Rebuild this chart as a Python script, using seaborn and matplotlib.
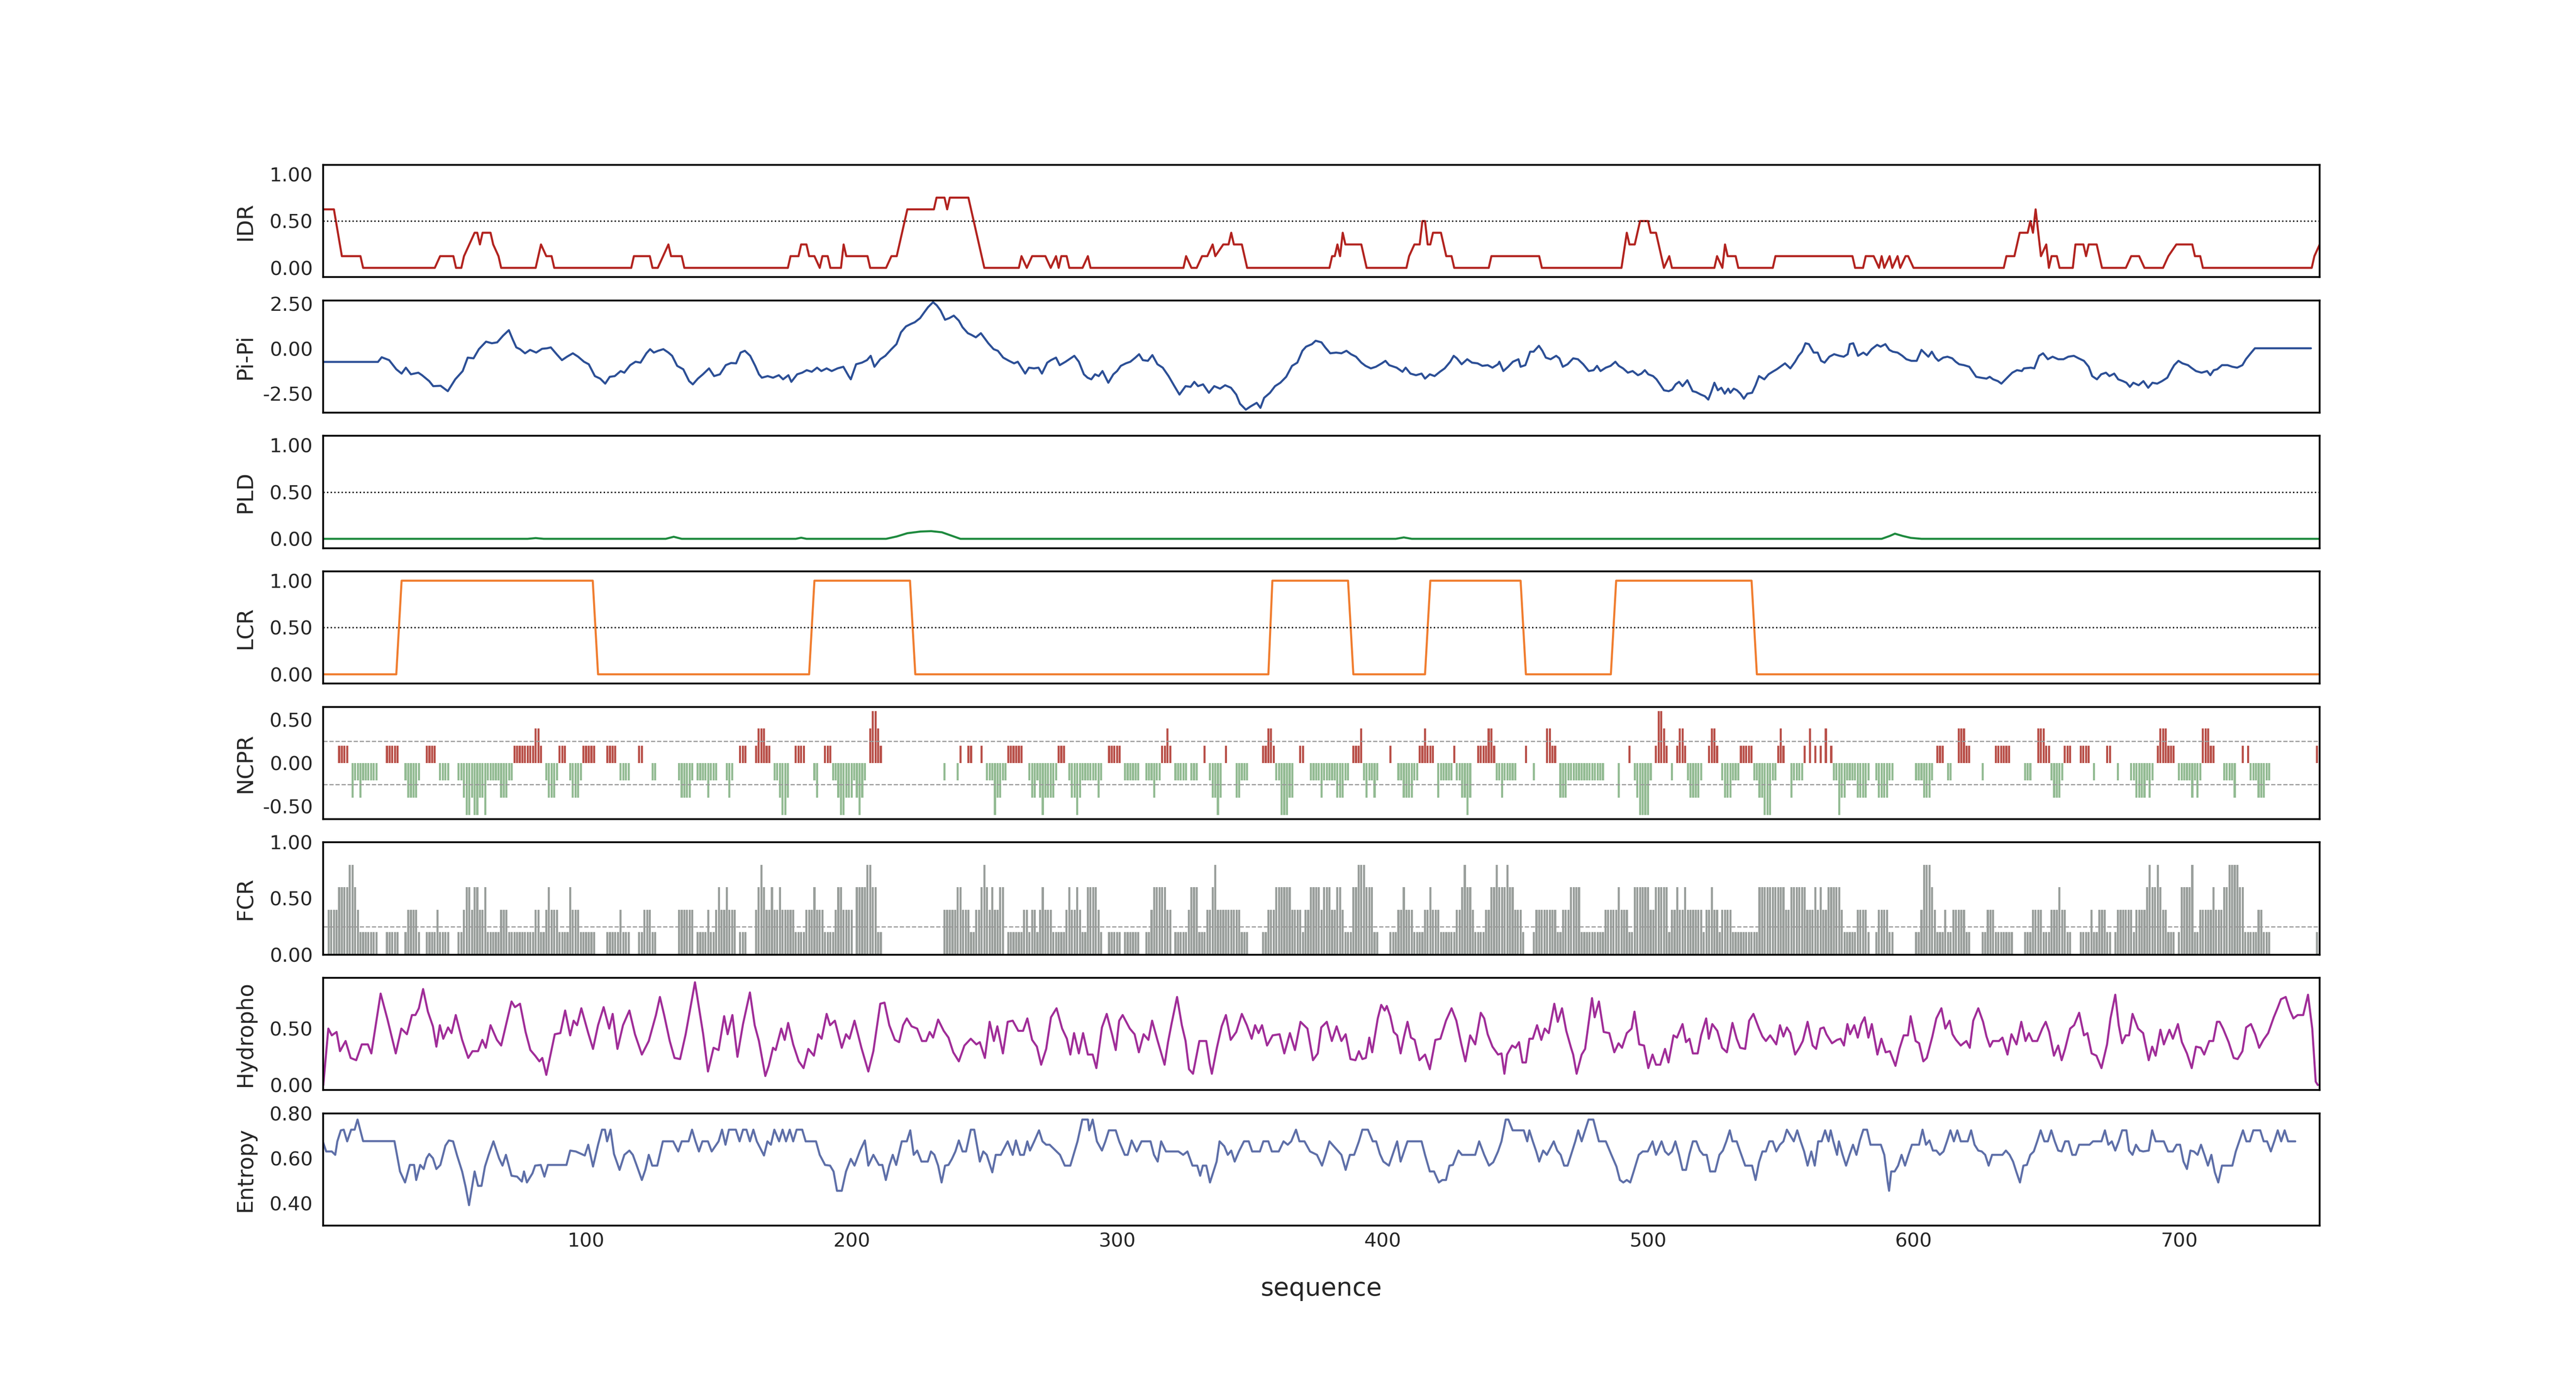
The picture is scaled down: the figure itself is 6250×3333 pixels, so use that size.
import numpy as np
import pandas as pd
import matplotlib
matplotlib.use("Agg")
import matplotlib.pyplot as plt
import seaborn as sns
from matplotlib.ticker import FormatStrFormatter

N_RES = 753

# ---------------- data ----------------
IDR_x = [1,5,8,15,16,43,45,50,51,53,54,56,58,59,60,61,64,65,67,68,81,83,85,87,88,117,118,124,125,127,129,131,132,136,137,
         176,177,180,181,183,184,186,188,189,191,192,196,197,198,206,207,213,215,217,219,221,231,232,235,236,237,244,245,247,250,
         263,264,266,268,273,275,277,278,279,281,282,287,289,290,325,326,328,330,332,334,336,337,340,342,343,344,347,349,
         380,381,382,383,384,385,386,392,394,409,410,412,414,415,416,417,418,419,422,424,426,427,440,441,459,460,
         490,492,493,495,496,497,500,501,503,506,508,509,525,526,528,529,530,533,534,547,548,577,578,581,582,585,587,588,589,591,592,594,595,597,598,600,
         634,635,638,640,643,644,645,646,648,650,651,652,654,655,660,661,664,665,666,669,671,680,682,685,687,694,696,699,705,706,708,709,750,751,753]
IDR_y = [0.625,0.625,0.125,0.125,0,0,0.125,0.125,0,0,0.125,0.25,0.375,0.375,0.25,0.375,0.375,0.25,0.125,0,0,0.25,0.125,0.125,0,0,0.125,0.125,0,0,0.125,0.25,0.125,0.125,0,
         0,0.125,0.125,0.25,0.25,0.125,0.125,0,0.125,0.125,0,0,0.25,0.125,0.125,0,0,0.125,0.125,0.375,0.625,0.625,0.75,0.75,0.625,0.75,0.75,0.625,0.375,0,
         0,0.125,0,0.125,0.125,0,0.125,0,0.125,0.125,0,0,0.125,0,0,0.125,0,0,0.125,0.125,0.25,0.125,0.25,0.25,0.375,0.25,0.25,0,
         0,0.125,0.125,0.25,0.125,0.375,0.25,0.25,0,0,0.125,0.25,0.25,0.5,0.5,0.25,0.25,0.375,0.375,0.125,0.125,0,0,0.125,0.125,0,
         0,0.375,0.25,0.25,0.375,0.5,0.5,0.375,0.375,0,0.125,0,0,0.125,0,0.25,0.125,0.125,0,0,0.125,0.125,0,0,0.125,0.125,0,0.125,0,0.125,0,0.125,0,0.125,0.125,0,
         0,0.125,0.125,0.375,0.375,0.5,0.375,0.625,0.125,0.25,0,0.125,0.125,0,0,0.25,0.25,0.125,0.25,0.25,0,0,0.125,0.125,0,0,0.125,0.25,0.25,0.125,0.125,0,0,0.125,0.25]

PIPI_x = [1,21.6,23,25.8,28.5,30.5,32.1,34,36.8,38.2,40.9,42.4,45.2,47.9,50.7,53.5,55.4,57.6,59.6,62.3,64.5,66.5,68.7,70.9,72.3,73.7,75.1,77,78.9,81.2,83.4,85.3,86.7,88.9,90.9,92.8,95,97,99.2,101,103.3,105.3,107.2,108.9,110.8,113,114.4,116.6,118.6,120.5,122.7,124.1,125.5,127.1,129.1,131,132.4,134.3,136.6,138.8,140.2,142.1,144,146.3,148.2,150.4,152.6,154.6,156.5,158.2,159.8,161.8,163.7,165.1,166.2,168.4,170.4,172.6,174.2,176.2,177.3,179.5,181.4,183.1,185,187,188.6,190.6,192.5,194.7,196.9,198.9,199.7,201.7,203.9,205.8,207.2,208.6,210.8,212.7,215,216.9,218.6,220.5,222.4,223.8,225.8,227.4,228.8,230.7,232.1,233.5,235.2,236.8,238.5,240.4,241.8,243.8,245.1,246.8,248.7,250.1,251.5,253.5,255.1,257.1,259.3,261.2,262.6,264,265.4,266.8,268.7,270.4,271.7,273.7,275.1,277,278.4,280.6,282,283.9,285.6,287.5,288.9,290.3,291.7,293.1,294.5,296.7,298.6,300,301.4,303.3,305,306.9,308.3,309.7,311.6,313.3,315.2,317.2,319.4,321.6,323.5,325.8,327.7,329.1,330.5,332.4,334.6,336.6,338.8,340.7,342.9,344.9,346.3,348.5,350.4,352.6,354,355.4,357.6,359.5,361.5,363.7,365.9,367.9,369.8,371.2,373.4,374.8,377,378.4,380.3,382.5,384.5,386.4,388.1,390,392,393.6,395.6,397.5,399.7,401.1,402.5,405.3,
          407.5,408.7,410.5,412.6,414.7,416,417.8,419.6,421.6,423.4,425.5,426.8,428,429.8,431.9,433.7,435.8,437.6,439.6,441.4,443.5,444,445.5,447.3,449.1,451.2,452,453.8,455.6,456.9,458.9,460.2,461.5,463.3,465.4,466.6,467.9,469.7,471.8,473.6,475.6,477.7,479.5,480.8,482.1,484.1,485.9,487.7,489,490.6,492.4,494.2,496.2,497.5,498.8,500.1,501.9,503.2,504.5,506,507.8,509.1,510.4,511.7,513,514.8,516.8,518.1,519.9,521.4,522.7,523.8,525,526.3,527.6,528.9,530.2,531,532.3,533.5,534.8,536.1,537.4,539.2,540.5,541.8,543.8,545.4,546.9,548.5,550.3,551.6,553.6,555.4,556.7,558,559.3,560.6,562.4,563.9,565.2,566.5,568.3,570.1,572.1,573.7,575.2,576,577.3,579.1,581.1,582.4,584.2,586.3,587.6,589.4,590.9,592.2,594,595.8,597.3,599.2,601.2,603,604.3,605.6,606.9,608.2,609.4,611.2,612.8,614.6,615.9,617.2,619,621,622.3,623.6,625.4,627.5,628.7,630,631.8,633.1,634.7,635.9,637.2,639,640.8,641.6,644.2,645.5,647.3,648.8,650.6,652.4,654.5,656.5,658.3,660.4,662.2,664.2,666,667.3,669.1,670.7,672.5,673.8,675.6,677.1,678.9,680.2,681.5,682.8,684.8,686.6,688.4,690,691.8,693.6,695.6,696.9,698.2,699.8,701.3,703.4,704.6,706.4,708.5,710.6,711.8,713.1,714.4,716.2,718.3,720.1,721.9,723.9,725.2,727,728.6,749.7]
PIPI_y = [-0.74,-0.74,-0.48,-0.64,-1.15,-1.39,-1.06,-1.43,-1.34,-1.48,-1.81,-2.09,-2.07,-2.37,-1.71,-1.25,-0.50,-0.54,-0.03,0.39,0.30,0.35,0.72,1.03,0.53,0.07,-0.03,-0.26,-0.07,-0.22,-0.01,0.02,0.07,-0.31,-0.64,-0.45,-0.26,-0.45,-0.73,-0.87,-1.53,-1.67,-1.95,-1.57,-1.53,-1.25,-1.34,-0.92,-0.73,-0.78,-0.26,-0.03,-0.22,-0.12,-0.03,-0.22,-0.40,-0.96,-1.15,-1.81,-1.99,-1.67,-1.43,-1.10,-1.53,-1.43,-0.92,-0.80,-0.82,-0.22,-0.12,-0.40,-0.96,-1.43,-1.62,-1.53,-1.62,-1.48,-1.71,-1.48,-1.85,-1.43,-1.34,-1.20,-1.29,-1.06,-1.25,-1.10,-1.25,-1.10,-1.01,-1.53,-1.71,-0.87,-0.78,-0.64,-0.40,-1.01,-0.59,-0.40,-0.03,0.25,0.91,1.24,1.38,1.47,1.70,2.03,2.31,2.59,2.41,2.13,1.61,1.70,1.84,1.56,1.19,0.86,0.77,0.63,0.86,0.58,0.30,-0.03,-0.12,-0.50,-0.68,-0.82,-0.73,-1.06,-1.39,-1.06,-1.10,-1.06,-1.39,-0.78,-0.64,-0.50,-0.92,-0.73,-0.59,-0.40,-0.73,-1.43,-1.62,-1.71,-1.43,-1.53,-1.25,-1.90,-1.43,-1.25,-0.96,-0.82,-0.73,-0.50,-0.31,-0.64,-0.68,-0.36,-0.87,-1.06,-1.53,-2.09,-2.56,-2.09,-2.13,-1.85,-2.09,-1.99,-2.46,-2.09,-2.23,-2.04,-2.18,-2.56,-3.07,-3.40,-3.21,-3.02,-3.30,-2.74,-2.46,-2.09,-1.90,-1.57,-0.96,-0.78,-0.12,0.11,0.25,0.44,0.35,0.07,-0.26,-0.22,-0.26,-0.12,-0.31,-0.45,-0.78,-0.96,-1.10,-1.01,-0.82,-0.68,-0.92,-1.06,
          -1.29,-1.06,-1.39,-1.48,-1.39,-1.67,-1.43,-1.53,-1.29,-1.10,-0.73,-0.40,-0.54,-0.87,-0.59,-0.78,-0.82,-0.96,-0.92,-1.06,-0.87,-0.73,-1.25,-1.01,-0.73,-0.59,-1.01,-0.92,-0.17,-0.17,0.16,-0.12,-0.50,-0.59,-0.40,-0.54,-1.01,-0.87,-0.54,-0.59,-0.87,-1.25,-1.20,-0.96,-1.25,-1.06,-0.96,-0.73,-0.96,-1.10,-1.34,-1.25,-1.48,-1.39,-1.20,-1.43,-1.53,-1.71,-1.99,-2.32,-2.37,-2.28,-1.99,-1.85,-2.09,-1.76,-2.37,-2.42,-2.56,-2.65,-2.84,-2.42,-1.90,-2.32,-2.18,-2.51,-2.23,-2.46,-2.23,-2.32,-2.51,-2.79,-2.51,-2.46,-2.04,-1.53,-1.71,-1.43,-1.29,-1.15,-0.96,-0.82,-1.10,-0.73,-0.40,-0.17,0.30,0.25,-0.22,-0.22,-0.68,-0.78,-0.45,-0.31,-0.40,-0.45,-0.31,0.25,0.30,-0.40,-0.22,-0.36,-0.03,0.21,0.11,0.25,-0.07,-0.17,-0.22,-0.40,-0.59,-0.68,-0.68,-0.07,-0.26,-0.45,-0.17,-0.50,-0.68,-0.50,-0.45,-0.54,-0.73,-0.87,-0.92,-1.01,-1.29,-1.57,-1.62,-1.67,-1.57,-1.71,-1.81,-1.95,-1.71,-1.53,-1.34,-1.20,-1.25,-1.10,-1.06,-1.10,-0.40,-0.26,-0.59,-0.45,-0.59,-0.59,-0.45,-0.40,-0.54,-0.68,-1.01,-1.53,-1.71,-1.43,-1.34,-1.53,-1.39,-1.71,-1.81,-1.90,-2.13,-1.90,-2.04,-1.81,-2.18,-1.90,-1.95,-1.81,-1.62,-1.25,-0.92,-0.68,-0.82,-0.92,-1.06,-1.25,-1.34,-1.25,-1.48,-1.20,-1.15,-0.92,-0.92,-1.01,-1.06,-0.92,-0.59,-0.26,0.02,0.02]

PLD_x = [1,78,81,84,130,133,136,179,181,183,213,217,221,226,230,234,238,241,405,408,411,588,591,593,596,599,603,753]
PLD_y = [0.0,0.0,0.008,0.0,0.0,0.022,0.0,0.0,0.012,0.0,0.0,0.025,0.06,0.078,0.082,0.07,0.03,0.0,0.0,0.015,0.0,0.0,0.03,0.055,0.03,0.01,0.0,0.0]

LCR_x = [1,28.5,30.5,102.5,104.5,184,186,222,224,357,358.5,387,389,416,418,452,454,486,488,539,541,753]
LCR_y = [0,0,1,1,0,0,1,1,0,0,1,1,0,0,1,1,0,0,1,1,0,0]

NCPR_runs = [(7,10,.2),(12,21,-.2),(12,12,-.4),(15,15,-.4),(25,29,.2),(32,37,-.2),(33,36,-.4),(40,43,.2),(45,48,-.2),(52,72,-.2),(54,62,-.4),(55,56,-.6),(58,59,-.6),(62,62,-.6),(68,70,-.4),(73,83,.2),(81,82,.4),(85,89,-.2),(86,88,-.4),(90,92,.2),(94,98,-.2),(95,97,-.4),(99,103,.2),(108,111,.2),(113,116,-.2),(120,121,.2),(125,126,-.2),(135,140,-.2),(136,139,-.4),(142,148,-.2),(146,146,-.4),(149,149,-.2),(153,155,-.2),(154,154,-.4),(158,160,.2),(164,169,.2),(165,167,.4),(171,176,-.2),(173,176,-.4),(174,175,-.6),(179,182,.2),(186,187,-.2),(187,187,-.4),(190,192,.2),(193,205,-.2),(195,200,-.4),(196,197,-.6),(202,204,-.4),(203,203,-.6),(207,211,.2),(207,210,.4),(208,209,.6),(235,235,-.2),(240,240,-.2),(241,241,.2),(244,245,.2),(249,249,.2),(251,258,-.2),(254,256,-.4),(254,254,-.6),(259,264,.2),(267,277,-.2),(268,269,-.4),(271,276,-.4),(272,272,-.6),(278,280,.2),(282,294,-.2),(283,286,-.4),(285,285,-.6),(293,293,-.4),(297,301,.2),(303,308,-.2),(311,316,-.2),(314,314,-.4),(317,320,.2),(319,319,.4),(322,326,-.2),(328,330,-.2),(333,333,.2),(335,339,-.2),(336,339,-.4),(338,338,-.6),(341,341,.2),(345,349,-.2),(345,346,-.4),(355,359,.2),(357,358,.4),(360,366,-.2),(362,366,-.4),(362,364,-.6),(369,370,.2),(373,387,-.2),(377,377,-.4),(383,385,-.4),(389,392,.2),(392,392,.4),(393,398,-.2),(394,394,-.4),(397,397,-.4),(403,403,.2),(406,413,-.2),(408,411,-.4),(414,419,.2),(416,416,.4),(421,426,-.2),(421,421,-.4),(427,427,.2),(428,433,-.2),(430,433,-.4),(432,432,-.6),(436,442,.2),(440,441,.4),(443,450,-.2),(445,445,-.4),(454,454,.2),(457,457,-.2),(462,465,.2),(462,463,.4),(467,483,-.2),(467,469,-.4),(489,489,-.4),(493,493,.2),(495,501,-.2),(496,500,-.4),(497,500,-.6),(503,507,.2),(504,505,.6),(506,506,.4),(509,509,-.2),(511,514,.2),(512,513,.4),(515,520,-.2),(516,519,-.4),(523,526,.2),(524,525,.4),(528,534,-.2),(529,531,-.4),(535,539,.2),(540,548,-.2),(542,546,-.4),(544,546,-.6),(549,551,.2),(550,550,.4),(554,558,-.2),(554,554,-.4),(559,559,.2),(561,561,.4),(563,563,.2),(565,565,.2),(567,567,.4),(569,569,.2),(570,583,-.2),(572,574,-.4),(572,572,-.6),(579,582,-.4),(586,592,-.2),(587,590,-.4),(601,607,-.2),(604,606,-.4),(609,611,.2),(613,614,-.2),(617,621,.2),(617,619,.4),(626,626,-.2),(631,636,.2),(642,644,-.2),(647,651,.2),(647,649,.4),(652,656,-.2),(653,655,-.4),(657,659,.2),(663,666,.2),(668,668,-.2),(673,674,.2),(677,677,-.2),(682,690,-.2),(684,687,-.4),(689,689,-.4),(692,698,.2),(693,695,.4),(700,708,-.2),(705,705,-.4),(707,707,-.4),(709,713,.2),(709,711,.4),(717,721,-.2),(721,721,-.4),(724,724,.2),(726,726,.2),(727,734,-.2),(730,732,-.4),(752,752,.2)]

FCR_runs = [(3,6,.4),(7,12,.6),(11,12,.8),(13,13,.6),(14,14,.4),(15,21,.2),(25,29,.2),(32,37,.2),(33,36,.4),(40,43,.2),(44,44,.4),(45,48,.2),(52,53,.2),(54,62,.4),(55,56,.6),(58,59,.6),(62,62,.6),(63,67,.2),(68,70,.4),(71,80,.2),(81,82,.4),(83,84,.2),(85,89,.4),(86,86,.6),(90,93,.2),(94,97,.4),(94,94,.6),(98,103,.2),(108,116,.2),(113,113,.4),(120,121,.2),(122,124,.4),(125,126,.2),(135,140,.4),(142,150,.2),(146,146,.4),(149,152,.4),(150,150,.6),(153,153,.6),(154,156,.4),(158,160,.2),(164,178,.4),(165,165,.6),(166,166,.8),(167,167,.6),(170,170,.6),(173,173,.6),(179,182,.2),(183,189,.4),(186,186,.6),(190,193,.2),(194,200,.4),(195,196,.6),(202,209,.6),(206,207,.8),(210,211,.2),(235,244,.4),(240,241,.6),(245,246,.2),(247,248,.4),(249,251,.6),(250,250,.8),(252,257,.4),(253,253,.6),(256,257,.6),(259,264,.2),(265,266,.4),(267,267,.2),(268,269,.4),(270,270,.2),(271,275,.4),(272,272,.6),(276,277,.2),(278,280,.2),(281,286,.4),(282,282,.6),(285,285,.6),(287,288,.2),(289,292,.6),(293,293,.4),(294,294,.2),(297,301,.2),(303,308,.2),(311,312,.2),(313,318,.6),(313,313,.4),(319,320,.4),(322,326,.2),(327,330,.4),(328,330,.6),(331,333,.2),(334,338,.4),(336,337,.6),(337,337,.8),(339,346,.4),(347,349,.2),(355,356,.2),(357,359,.4),(360,365,.6),(366,369,.4),(370,370,.2),(371,377,.4),(373,376,.6),(378,385,.4),(378,380,.6),(383,384,.6),(386,388,.2),(389,396,.6),(391,393,.8),(397,398,.2),(403,405,.2),(406,411,.4),(408,408,.6),(412,415,.2),(416,421,.4),(418,418,.6),(422,427,.2),(428,434,.4),(430,433,.6),(431,431,.8),(435,438,.2),(439,452,.4),(441,449,.6),(443,443,.8),(447,447,.8),(453,453,.2),(457,457,.2),(458,465,.4),(466,467,.2),(468,474,.4),(471,474,.6),(475,483,.2),(484,492,.4),(489,489,.6),(493,494,.2),(495,507,.6),(501,502,.4),(508,508,.2),(509,515,.4),(511,511,.6),(514,514,.6),(516,520,.4),(521,521,.2),(522,526,.4),(524,524,.6),(527,527,.2),(528,531,.4),(532,534,.2),(535,541,.2),(542,551,.6),(552,553,.4),(554,559,.6),(560,573,.4),(563,563,.6),(565,565,.6),(568,572,.6),(574,583,.2),(579,582,.4),(586,592,.2),(587,590,.4),(601,602,.2),(603,603,.4),(604,606,.8),(607,607,.6),(608,608,.4),(609,611,.2),(612,612,.4),(613,614,.2),(615,619,.4),(620,621,.2),(626,637,.2),(628,630,.4),(642,644,.2),(645,648,.4),(649,651,.2),(652,657,.4),(655,655,.6),(658,659,.2),(663,674,.2),(667,667,.4),(670,672,.4),(676,676,.2),(677,682,.4),(683,683,.2),(684,695,.4),(688,693,.6),(689,689,.8),(692,692,.8),(696,698,.2),(700,700,.2),(701,705,.6),(705,705,.8),(706,707,.2),(708,716,.4),(713,713,.6),(717,724,.6),(719,722,.8),(725,729,.2),(730,731,.4),(732,734,.2),(752,752,.2)]

HYD_x = [1.0,2.9,4.2,6.0,7.3,9.4,11.3,13.4,15.5,17.8,19.1,22.6,25.2,28.3,30.4,32.5,34.4,35.7,37.0,38.6,40.4,42.3,43.6,44.9,46.2,48.0,49.3,50.9,53.3,55.6,57.2,59.3,60.9,62.2,64.0,66.4,68.0,71.9,73.2,75.1,77.2,79.0,80.8,82.4,83.5,85.0,88.2,90.3,92.1,94.0,95.3,96.6,98.2,100.8,102.6,104.5,106.6,108.7,110.0,111.8,113.9,116.3,118.4,121.0,123.6,126.3,127.8,129.4,131.5,133.3,135.4,137.5,141.0,144.1,145.9,148.0,149.9,152.0,153.3,155.1,157.0,159.1,161.7,163.5,165.1,167.5,168.8,170.4,171.4,173.5,174.8,176.1,178.0,180.1,181.9,183.7,185.8,187.4,188.7,190.6,191.9,193.7,196.3,197.9,199.2,201.1,203.7,206.3,208.2,210.8,212.4,214.2,216.3,217.9,219.4,220.8,222.6,224.7,226.5,228.1,229.4,230.7,232.6,234.7,236.5,238.3,240.4,242.5,244.9,247.0,248.3,250.2,252.0,253.6,254.9,257.0,258.8,260.7,262.8,264.6,266.2,268.0,269.8,271.4,273.3,275.1,277.2,279.3,281.1,282.4,283.8,285.6,287.2,289.0,290.8,292.2,294.3,296.1,298.2,299.5,300.8,302.1,304.8,306.6,308.2,310.0,311.8,313.2,315.3,317.9,319.2,320.5,322.6,324.4,325.8,327.1,328.6,331.0,333.6,334.9,335.7,337.6,339.4,341.0,342.8,344.9,347.0,348.9,350.7,352.0,353.3,354.6,356.5,358.6,361.2,363.0,365.1,367.0,369.1,371.7,373.8,375.6,376.9,379.0,380.9,382.7,
         384.5,386.1,387.9,389.8,391.1,392.4,393.7,395.0,396.1,398.2,399.5,400.8,401.6,402.9,404.2,405.5,406.8,408.1,409.4,410.7,412.1,413.9,416.0,417.8,419.9,421.8,423.9,426.0,427.8,429.6,431.2,433.0,434.9,437.0,438.3,439.6,441.4,443.5,444.8,445.9,446.9,448.8,450.1,451.4,452.7,454.0,455.3,456.6,458.2,459.8,461.1,462.6,464.7,466.0,467.6,469.2,471.0,471.8,473.1,475.0,476.3,478.9,479.9,481.5,483.3,485.4,487.3,488.9,490.2,492.0,493.8,494.9,496.7,498.5,500.1,501.7,503.0,504.6,506.4,507.7,509.6,510.9,513.0,514.3,515.6,516.9,518.7,520.0,521.9,522.9,524.2,526.1,527.9,529.7,531.8,533.4,534.7,536.6,538.1,539.7,541.8,543.1,544.4,546.0,548.3,549.7,551.0,552.3,553.6,555.4,557.0,558.3,560.1,562.0,563.3,564.9,566.2,567.2,568.5,569.3,571.2,572.5,573.8,575.1,576.1,577.7,579.0,580.3,581.6,583.0,584.3,586.4,587.9,589.5,591.1,593.2,594.7,596.3,597.9,598.9,600.8,602.1,603.7,605.0,607.1,608.6,610.5,612.0,613.6,614.7,616.0,617.8,619.9,621.2,622.5,624.4,626.2,627.5,628.8,629.9,632.2,633.5,635.4,636.9,638.8,640.6,642.2,643.5,644.8,646.6,648.5,649.8,651.1,652.9,654.5,655.8,657.1,659.0,660.5,662.4,664.2,665.5,667.1,668.9,670.8,672.9,674.2,676.0,677.3,678.6,679.9,681.2,682.5,684.6,686.5,688.6,689.9,691.2,693.0,694.3,696.4,697.7,699.6,701.1,703.0,704.8,706.4,708.2,709.5,711.4,712.9,714.3,715.3,716.6,718.7,720.6,722.1,723.9,725.3,727.1,728.7,730.2,731.8,733.6,735.7,737.1,738.4,740.2,741.8,743.1,744.7,746.8,748.6,750.2,751.5,752.3]
HYD_y = [0.00,0.50,0.44,0.47,0.30,0.39,0.24,0.22,0.36,0.36,0.28,0.81,0.58,0.28,0.50,0.45,0.62,0.62,0.68,0.85,0.65,0.52,0.34,0.53,0.41,0.51,0.46,0.62,0.40,0.24,0.30,0.30,0.40,0.33,0.53,0.40,0.35,0.74,0.69,0.72,0.47,0.31,0.26,0.21,0.24,0.09,0.45,0.46,0.66,0.44,0.57,0.53,0.68,0.46,0.32,0.53,0.69,0.50,0.63,0.32,0.53,0.66,0.45,0.27,0.39,0.62,0.78,0.62,0.39,0.24,0.23,0.45,0.91,0.45,0.12,0.33,0.31,0.61,0.45,0.62,0.25,0.54,0.82,0.53,0.39,0.08,0.17,0.33,0.31,0.50,0.40,0.55,0.36,0.21,0.15,0.32,0.26,0.45,0.41,0.63,0.53,0.57,0.33,0.45,0.41,0.57,0.33,0.12,0.30,0.72,0.73,0.53,0.40,0.38,0.53,0.59,0.52,0.50,0.39,0.39,0.47,0.42,0.58,0.48,0.42,0.29,0.21,0.35,0.41,0.36,0.38,0.24,0.56,0.39,0.52,0.28,0.56,0.57,0.48,0.48,0.59,0.40,0.34,0.18,0.32,0.60,0.68,0.50,0.41,0.27,0.46,0.28,0.46,0.27,0.27,0.15,0.51,0.63,0.44,0.31,0.57,0.62,0.50,0.45,0.29,0.45,0.40,0.57,0.39,0.18,0.38,0.54,0.78,0.53,0.39,0.14,0.10,0.39,0.39,0.19,0.10,0.33,0.52,0.62,0.40,0.47,0.63,0.53,0.41,0.53,0.46,0.53,0.35,0.44,0.45,0.28,0.46,0.31,0.56,0.50,0.22,0.28,0.51,0.56,0.39,0.52,
         0.39,0.45,0.23,0.22,0.30,0.23,0.24,0.42,0.29,0.59,0.71,0.66,0.70,0.61,0.47,0.44,0.28,0.43,0.56,0.42,0.40,0.22,0.27,0.14,0.40,0.41,0.57,0.68,0.57,0.37,0.21,0.44,0.36,0.64,0.59,0.45,0.34,0.27,0.28,0.10,0.27,0.35,0.33,0.38,0.20,0.20,0.41,0.41,0.53,0.40,0.50,0.46,0.72,0.56,0.68,0.48,0.33,0.27,0.10,0.27,0.32,0.77,0.60,0.74,0.47,0.46,0.29,0.37,0.33,0.46,0.50,0.65,0.36,0.35,0.15,0.27,0.18,0.18,0.32,0.20,0.44,0.42,0.54,0.38,0.41,0.28,0.28,0.44,0.59,0.41,0.54,0.48,0.33,0.29,0.55,0.41,0.33,0.32,0.57,0.63,0.50,0.43,0.39,0.44,0.36,0.53,0.43,0.51,0.46,0.27,0.33,0.39,0.56,0.35,0.32,0.50,0.51,0.45,0.40,0.37,0.40,0.41,0.35,0.54,0.45,0.53,0.42,0.54,0.60,0.42,0.54,0.27,0.41,0.29,0.30,0.17,0.32,0.44,0.44,0.61,0.39,0.37,0.21,0.24,0.43,0.59,0.68,0.50,0.57,0.45,0.40,0.35,0.39,0.33,0.57,0.68,0.56,0.43,0.34,0.39,0.39,0.42,0.27,0.45,0.36,0.56,0.39,0.46,0.39,0.39,0.50,0.56,0.47,0.26,0.35,0.22,0.32,0.50,0.53,0.64,0.44,0.46,0.28,0.26,0.15,0.36,0.59,0.80,0.53,0.37,0.44,0.44,0.63,0.50,0.46,0.22,0.34,0.26,0.49,0.36,0.49,0.41,0.54,0.38,0.28,0.15,0.34,0.33,0.27,0.39,0.39,0.56,0.56,0.50,0.38,0.24,0.23,0.30,0.51,0.54,0.45,0.33,0.40,0.46,0.60,0.68,0.76,0.78,0.66,0.59,0.62,0.62,0.80,0.50,0.03,0.00]

ENT_x = [0.8,2.1,4.2,5.5,6.3,7.6,8.7,10.0,11.5,12.8,13.9,16.0,27.8,29.9,31.8,33.6,35.2,36.0,37.5,38.8,39.9,40.9,42.3,43.6,45.1,47.0,48.3,49.9,51.4,53.3,54.6,55.9,58.0,59.3,60.6,61.9,63.3,65.1,67.2,68.5,69.8,71.9,74.0,75.8,76.6,77.7,79.8,80.8,82.9,84.3,85.6,92.6,94.0,96.1,99.5,100.8,102.6,104.5,106.0,107.1,107.9,109.2,110.5,112.6,114.4,116.3,117.6,119.2,121.0,122.3,123.6,124.9,126.8,128.9,132.8,134.7,136.0,138.6,139.9,141.2,142.5,143.8,145.9,147.3,149.9,151.2,152.5,153.8,156.4,157.8,159.1,160.4,161.7,163.0,164.3,167.0,168.3,169.6,170.9,172.7,174.0,175.3,176.7,178.0,179.3,181.4,182.7,186.6,188.0,190.0,191.9,193.2,194.5,196.3,197.9,199.7,201.1,203.2,205.0,206.3,208.2,210.3,211.6,212.9,214.2,215.5,216.8,218.9,220.8,222.1,223.4,224.7,226.3,228.7,229.9,231.2,232.6,233.9,235.2,236.5,237.8,239.1,240.4,241.8,243.1,244.9,246.2,248.3,249.6,250.9,253.0,254.3,256.2,258.8,260.7,261.9,263.5,264.9,266.2,267.2,268.8,270.6,271.9,273.3,274.6,277.2,278.5,280.3,282.4,285.1,286.9,289.0,289.5,290.8,292.4,294.3,295.6,296.9,299.5,300.8,302.9,304.0,305.5,307.4,309.2,312.6,313.9,315.3,316.6,318.4,323.1,324.9,326.5,328.4,330.2,331.3,332.3,333.6,335.0,337.5,338.6,340.4,341.7,343.0,344.3,345.9,347.8,349.6,350.9,353.8,355.1,357.0,358.3,360.9,362.7,364.3,365.6,367.4,368.7,370.6,372.7,375.3,377.2,378.5,380.0,
         384.5,386.1,387.7,389.3,391.1,392.4,394.5,396.3,397.6,399.0,400.3,402.4,404.2,405.5,406.8,408.1,409.4,414.7,416.0,417.8,419.4,421.2,422.5,423.9,425.2,426.5,428.6,429.9,434.9,436.4,438.3,440.1,441.7,443.5,444.8,446.4,447.4,449.0,453.2,454.5,455.3,456.6,457.9,459.0,460.5,461.9,464.5,465.8,467.1,468.4,469.7,471.0,472.6,473.7,475.0,476.3,477.6,479.4,481.5,484.1,486.2,488.1,489.4,490.7,492.0,493.3,494.6,496.5,498.0,499.9,501.7,503.0,505.1,506.4,507.7,509.0,510.3,511.7,513.0,514.3,515.6,516.9,518.2,519.5,520.8,522.1,523.4,525.3,526.9,528.2,529.5,530.8,531.8,533.4,534.7,536.6,539.2,540.5,541.8,543.1,544.4,545.7,547.0,548.3,549.7,551.0,552.3,554.9,556.2,557.5,558.8,560.1,561.5,562.8,564.1,565.4,566.7,568.0,568.8,569.8,571.2,571.9,573.3,574.6,575.9,577.2,578.5,579.8,581.1,582.5,583.8,587.7,589.0,590.3,590.8,591.6,592.9,594.2,595.5,596.8,598.1,599.4,602.1,603.4,604.7,606.0,607.3,608.6,609.9,611.3,612.6,613.9,615.2,616.5,617.8,620.4,621.7,623.0,624.4,625.7,627.0,628.3,629.6,633.5,634.8,636.2,637.5,638.8,640.1,641.4,642.7,644.0,645.3,646.6,647.9,649.3,650.6,651.9,653.2,654.5,655.8,657.1,658.4,659.8,661.1,662.4,666.3,667.6,670.8,672.1,673.4,674.7,676.0,677.3,678.6,680.2,681.2,682.5,683.8,685.2,686.5,688.6,689.9,691.2,694.3,695.9,697.7,699.1,700.4,701.7,703.0,704.3,705.6,707.0,708.3,709.6,710.9,712.2,713.5,714.8,716.2,720.1,721.4,722.7,724.1,725.4,726.7,728.0,730.6,731.9,733.2,734.6,735.9,737.2,738.5,739.8,741.1,743.8]
ENT_y = [0.675,0.630,0.630,0.615,0.675,0.724,0.727,0.675,0.727,0.727,0.772,0.676,0.676,0.541,0.492,0.570,0.570,0.503,0.570,0.552,0.600,0.619,0.600,0.552,0.570,0.656,0.679,0.675,0.612,0.541,0.473,0.391,0.541,0.477,0.477,0.563,0.615,0.675,0.600,0.567,0.615,0.522,0.518,0.496,0.541,0.492,0.533,0.567,0.570,0.518,0.570,0.570,0.634,0.630,0.612,0.660,0.563,0.660,0.727,0.727,0.675,0.727,0.619,0.548,0.615,0.634,0.615,0.563,0.503,0.548,0.615,0.567,0.567,0.675,0.675,0.630,0.675,0.675,0.727,0.675,0.630,0.675,0.675,0.630,0.675,0.727,0.660,0.727,0.727,0.675,0.727,0.727,0.675,0.727,0.675,0.612,0.675,0.660,0.727,0.675,0.727,0.675,0.727,0.675,0.727,0.727,0.675,0.675,0.615,0.570,0.567,0.541,0.455,0.455,0.541,0.597,0.567,0.634,0.679,0.567,0.615,0.570,0.570,0.503,0.567,0.615,0.570,0.675,0.675,0.724,0.615,0.634,0.585,0.585,0.630,0.615,0.567,0.492,0.567,0.570,0.597,0.630,0.679,0.630,0.630,0.727,0.727,0.585,0.630,0.615,0.537,0.615,0.615,0.675,0.615,0.679,0.615,0.615,0.675,0.634,0.675,0.724,0.675,0.660,0.660,0.630,0.615,0.567,0.567,0.675,0.772,0.772,0.724,0.772,0.675,0.634,0.675,0.724,0.724,0.675,0.615,0.615,0.679,0.630,0.675,0.675,0.615,0.585,0.675,0.630,0.630,0.615,0.630,0.567,0.567,0.522,0.567,0.567,0.492,0.585,0.675,0.653,0.615,0.634,0.585,0.630,0.675,0.675,0.630,0.630,0.675,0.675,0.630,0.630,0.675,0.660,0.675,0.727,0.675,0.675,0.630,0.615,0.567,0.615,0.675,
         0.615,0.548,0.615,0.615,0.675,0.727,0.727,0.675,0.675,0.619,0.585,0.567,0.630,0.675,0.585,0.630,0.675,0.675,0.615,0.541,0.541,0.492,0.503,0.503,0.567,0.570,0.634,0.615,0.615,0.675,0.615,0.567,0.582,0.630,0.675,0.772,0.772,0.724,0.724,0.675,0.724,0.675,0.630,0.585,0.634,0.615,0.675,0.634,0.615,0.567,0.567,0.615,0.675,0.724,0.675,0.724,0.772,0.772,0.675,0.675,0.615,0.563,0.503,0.492,0.503,0.492,0.541,0.615,0.630,0.630,0.675,0.615,0.675,0.630,0.615,0.630,0.675,0.615,0.548,0.548,0.619,0.675,0.675,0.634,0.615,0.615,0.541,0.541,0.615,0.634,0.675,0.724,0.675,0.675,0.630,0.567,0.567,0.503,0.582,0.630,0.630,0.675,0.675,0.630,0.660,0.675,0.727,0.675,0.724,0.675,0.630,0.567,0.630,0.567,0.675,0.675,0.724,0.675,0.724,0.675,0.615,0.675,0.615,0.567,0.615,0.660,0.615,0.679,0.727,0.727,0.660,0.660,0.615,0.492,0.455,0.541,0.541,0.567,0.615,0.567,0.615,0.660,0.660,0.727,0.660,0.679,0.634,0.634,0.615,0.630,0.675,0.724,0.675,0.724,0.675,0.675,0.724,0.660,0.634,0.630,0.615,0.567,0.615,0.615,0.634,0.615,0.585,0.537,0.492,0.567,0.570,0.615,0.630,0.675,0.724,0.675,0.675,0.724,0.675,0.634,0.630,0.675,0.675,0.615,0.615,0.660,0.660,0.675,0.675,0.724,0.660,0.675,0.634,0.675,0.724,0.724,0.634,0.615,0.660,0.634,0.630,0.634,0.724,0.675,0.675,0.630,0.630,0.660,0.660,0.585,0.552,0.634,0.630,0.615,0.660,0.615,0.567,0.615,0.537,0.492,0.567,0.567,0.630,0.675,0.724,0.675,0.675,0.724,0.724,0.675,0.675,0.630,0.675,0.724,0.675,0.724,0.675,0.675]

TRACK_LABELS = ["IDR", "Pi-Pi", "PLD", "LCR", "NCPR", "FCR", "Hydropho", "Entropy"]
X_TICKS = [100, 200, 300, 400, 500, 600, 700]


def runs_to_array(runs):
    arr = np.zeros(N_RES + 1)
    for s, e, v in runs:
        arr[s:e + 1] = v
    return arr


res = np.arange(1, N_RES + 1)
ncpr = runs_to_array(NCPR_runs)[1:]
fcr = runs_to_array(FCR_runs)[1:]

sns.set_style("white")
plt.rcParams["font.family"] = "DejaVu Sans"
fig, axes = plt.subplots(8, 1, sharex=True, figsize=(15.625, 8.3325), dpi=400)
fig.subplots_adjust(left=0.1255, right=0.9005, top=0.88, bottom=0.108, hspace=0.206)

LW = 0.9


def line(ax, x, y, color):
    df = pd.DataFrame({"x": x, "y": y})
    sns.lineplot(data=df, x="x", y="y", ax=ax, color=color, lw=LW,
                 estimator=None, sort=False)


line(axes[0], IDR_x, IDR_y, "#b2231f")
line(axes[1], PIPI_x, PIPI_y, "#2c4f96")
line(axes[2], PLD_x, PLD_y, "#1e8a3e")
line(axes[3], LCR_x, LCR_y, "#f07d2f")
line(axes[6], HYD_x, HYD_y, "#a02d98")
line(axes[7], ENT_x, ENT_y, "#5e6fa8")

ncpr_colors = np.where(ncpr > 0, "#b9514a", "#93bb93")
mask = ncpr != 0
axes[4].bar(res[mask], ncpr[mask], width=0.8, color=ncpr_colors[mask], linewidth=0)
maskf = fcr != 0
axes[5].bar(res[maskf], fcr[maskf], width=0.8, color="#9a9f9c", linewidth=0)

for i in (0, 2, 3):
    axes[i].axhline(0.5, color="black", ls=":", lw=0.6)
for yv in (0.25, -0.25):
    axes[4].axhline(yv, color="#999999", ls="--", lw=0.5)
axes[5].axhline(0.25, color="#999999", ls="--", lw=0.5)

ylims = [(-0.1, 1.1), (-3.57, 2.69), (-0.1, 1.1), (-0.1, 1.1), (-0.65, 0.65), (0, 1.0), (-0.045, 0.95), (0.3, 0.8)]
yticks = [[0, 0.5, 1.0], [-2.5, 0, 2.5], [0, 0.5, 1.0], [0, 0.5, 1.0], [-0.5, 0, 0.5], [0, 0.5, 1.0], [0, 0.5], [0.4, 0.6, 0.8]]

for ax, lab, yl, yt in zip(axes, TRACK_LABELS, ylims, yticks):
    ax.set_ylim(*yl)
    ax.set_yticks(yt)
    ax.yaxis.set_major_formatter(FormatStrFormatter("%.2f"))
    ax.set_ylabel(lab, fontsize=9.5, labelpad=3)
    ax.set_xlabel("")
    ax.set_xlim(1, N_RES)
    ax.set_xticks(X_TICKS)
    ax.tick_params(axis="x", direction="in", length=4, width=0.8, labelsize=8.5, pad=3)
    ax.tick_params(axis="y", direction="out", length=2.5, width=0.8, labelsize=8.5, pad=2)
    for sp in ax.spines.values():
        sp.set_visible(True)
        sp.set_color("black")
        sp.set_linewidth(0.8)

fig.align_ylabels(axes)
fig.text(0.513, 0.062, "sequence", ha="center", va="center", fontsize=11)
fig.savefig("out.png", dpi=400)
